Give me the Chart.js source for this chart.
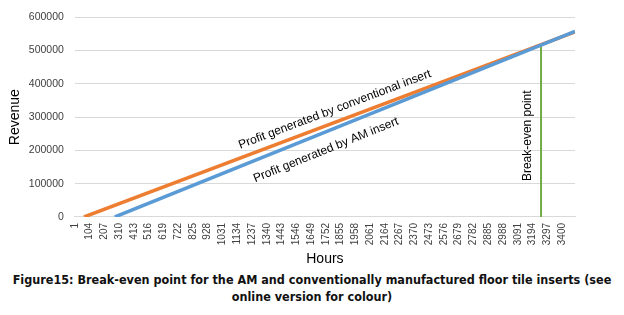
<!DOCTYPE html>
<html>
<head>
<meta charset="utf-8">
<script src="https://cdn.jsdelivr.net/npm/chart.js@4.4.1/dist/chart.umd.min.js"></script>
<style>
  html, body { margin: 0; padding: 0; background: #fff; }
  #wrap { position: relative; width: 624px; height: 315px; overflow: hidden; }
  #box { position: absolute; left: 0; top: 0; width: 624px; height: 268px; }
  #caption {
    position: absolute; left: 0; top: 271px; width: 624px;
    text-align: center; font-family: "DejaVu Sans Condensed", "DejaVu Sans", sans-serif;
    font-weight: bold; font-size: 12.5px; line-height: 17px; color: #111;
  }
</style>
</head>
<body>
<div id="wrap">
  <div id="box"><canvas id="c"></canvas></div>
  <div id="caption">Figure15: Break-even point for the AM and conventionally manufactured floor tile inserts (see<br>online version for colour)</div>
</div>
<script>
const hourTicks = [1,104,207,310,413,516,619,722,825,928,1031,1134,1237,1340,1443,1546,1649,1752,1855,1958,2061,2164,2267,2370,2473,2576,2679,2782,2885,2988,3091,3194,3297,3400];
const revenueTicks = [0,100000,200000,300000,400000,500000,600000];

const convHours = [65, 3490];
const convRevenue = [0, 556000];
const amHours = [280, 3490];
const amRevenue = [0, 558000];
const breakEvenHours = [3253, 3253];
const breakEvenRevenue = [0, 516000];

const labelTexts = ["Profit generated by conventional insert", "Profit generated by AM insert", "Break-even point"];
const labelHours = [1815, 1753, 3162];
const labelRevenue = [323000, 201000, 244000];

const pts = (xs, ys) => xs.map((x, i) => ({x: x, y: ys[i]}));

const annotate = {
  id: 'annotate',
  afterDatasetsDraw(chart) {
    const ctx = chart.ctx, xs = chart.scales.x, ys = chart.scales.y;
    const ang = (hx, hy) => Math.atan2(ys.getPixelForValue(hy[1]) - ys.getPixelForValue(hy[0]), xs.getPixelForValue(hx[1]) - xs.getPixelForValue(hx[0]));
    const angles = [ang(convHours, convRevenue), ang(amHours, amRevenue), -Math.PI / 2];
    ctx.save();
    ctx.font = '12px "Liberation Sans", Arial, sans-serif';
    ctx.fillStyle = '#000';
    ctx.textAlign = 'center';
    ctx.textBaseline = 'middle';
    labelTexts.forEach((t, i) => {
      ctx.save();
      ctx.translate(xs.getPixelForValue(labelHours[i]), ys.getPixelForValue(labelRevenue[i]));
      ctx.rotate(angles[i]);
      ctx.fillText(t, 0, 0);
      ctx.restore();
    });
    ctx.restore();
  }
};

new Chart(document.getElementById('c'), {
  type: 'line',
  data: {
    datasets: [
      { label: 'AM', data: pts(amHours, amRevenue), borderColor: '#5b9bd5', borderWidth: 3.5, pointRadius: 0, order: 0 },
      { label: 'Conventional', data: pts(convHours, convRevenue), borderColor: '#ed7d31', borderWidth: 3.5, pointRadius: 0, order: 1 },
      { label: 'Break-even', data: pts(breakEvenHours, breakEvenRevenue), borderColor: '#70ad47', borderWidth: 2, pointRadius: 0, order: 2 }
    ]
  },
  options: {
    responsive: true, maintainAspectRatio: false, animation: false,
    layout: { padding: { left: 7, right: 49, top: 12, bottom: 0 } },
    plugins: { legend: { display: false }, tooltip: { enabled: false } },
    scales: {
      x: {
        type: 'linear', min: 1, max: 3490,
        afterBuildTicks: (axis) => { axis.ticks = hourTicks.map(v => ({ value: v })); },
        grid: { display: false, drawTicks: false },
        border: { display: true, color: '#d9d9d9', width: 1 },
        ticks: { autoSkip: false, maxRotation: 90, minRotation: 90, padding: 6, color: '#404040',
                 font: { family: '"Liberation Sans", Arial, sans-serif', size: 10 },
                 callback: (v) => String(v) },
        title: { display: true, text: 'Hours', color: '#000', padding: { top: 0, bottom: 0 },
                 font: { family: '"Liberation Sans", Arial, sans-serif', size: 14 } }
      },
      y: {
        min: 0, max: 600000,
        afterBuildTicks: (axis) => { axis.ticks = revenueTicks.map(v => ({ value: v })); },
        grid: { color: '#d9d9d9', lineWidth: 1, drawTicks: false },
        border: { display: false },
        ticks: { padding: 11, color: '#404040',
                 font: { family: '"Liberation Sans", Arial, sans-serif', size: 10.5 },
                 callback: (v) => String(v) },
        title: { display: true, text: 'Revenue', color: '#000', padding: { top: 0, bottom: -6 },
                 font: { family: '"Liberation Sans", Arial, sans-serif', size: 14 } }
      }
    }
  },
  plugins: [annotate]
});
</script>
</body>
</html>
